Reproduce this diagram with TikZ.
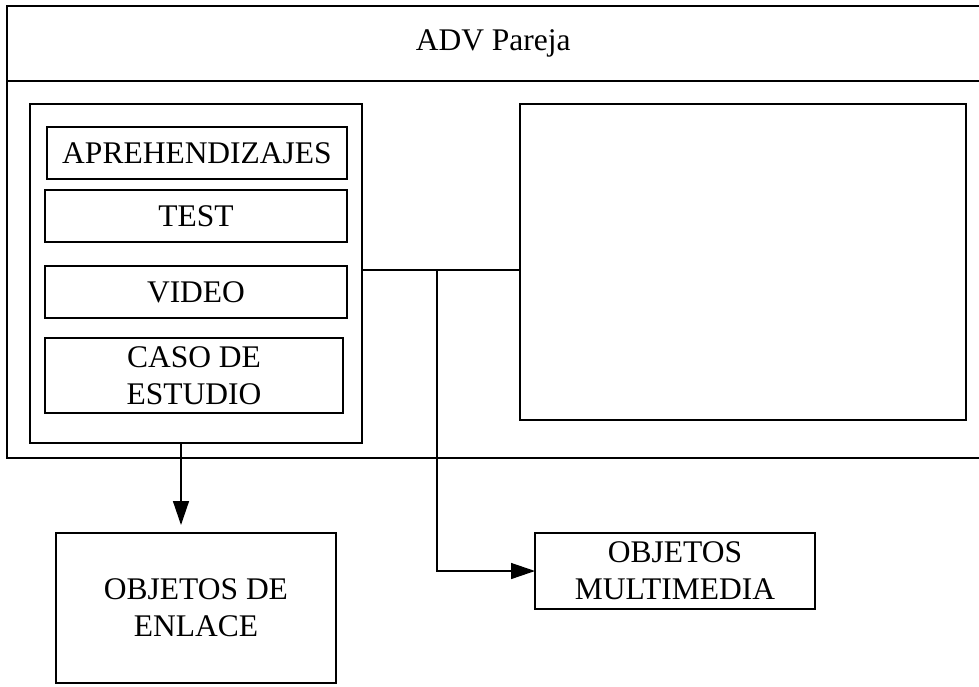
\documentclass[tikz,border=0pt]{standalone}
\usepackage{fontspec}
\setmainfont{Liberation Serif}
\usetikzlibrary{arrows.meta}
\begin{document}
\begin{tikzpicture}[x=1pt,y=-1pt,
  box/.style={draw,line width=1.5pt,anchor=north west,inner sep=0pt,outer sep=0pt,align=center,font=\fontsize{31.5}{37}\selectfont},
  conn/.style={line width=1.4pt},
  arr/.style={line width=1.4pt,-{Triangle[length=24pt,width=16pt]}}]
\useasboundingbox (0,0) rectangle (979,686);
% outer frame
\draw[line width=1.3pt] (985,6) -- (7,6) -- (7,458) -- (985,458);
\draw[line width=1.3pt] (7,81) -- (985,81);
\node[anchor=north west,inner sep=0pt,minimum width=972pt,minimum height=75pt,font=\fontsize{31.5}{37}\selectfont] (hdr) at (7,6) {ADV Pareja};
% left panel
\node[box,minimum width=332pt,minimum height=339pt] (panel) at (30,104) {};
\node[box,minimum width=300pt,minimum height=52pt] (apre) at (47,127) {APREHENDIZAJES};
\node[box,minimum width=302pt,minimum height=52pt] (test) at (45,190) {TEST};
\node[box,minimum width=302pt,minimum height=52pt] (video) at (45,266) {VIDEO};
\node[box,minimum width=298pt,minimum height=75pt] (caso) at (45,338) {CASO DE\\ESTUDIO};
% right box
\node[box,minimum width=446pt,minimum height=316pt] (rbox) at (520,104) {};
% lower boxes
\node[box,minimum width=280pt,minimum height=150pt] (enlace) at (56,533) {OBJETOS DE\\ENLACE};
\node[box,minimum width=280pt,minimum height=76pt] (multi) at (535,533) {OBJETOS\\MULTIMEDIA};
% connectors
\coordinate (j) at (437,270);
\coordinate (a) at (181,0);
\draw[conn] (panel.east |- j) -- (rbox.west |- j);
\draw[arr] (j) |- (multi.west);
\draw[arr,shorten >=8pt] (panel.south -| a) -- (enlace.north -| a);
\end{tikzpicture}
\end{document}
